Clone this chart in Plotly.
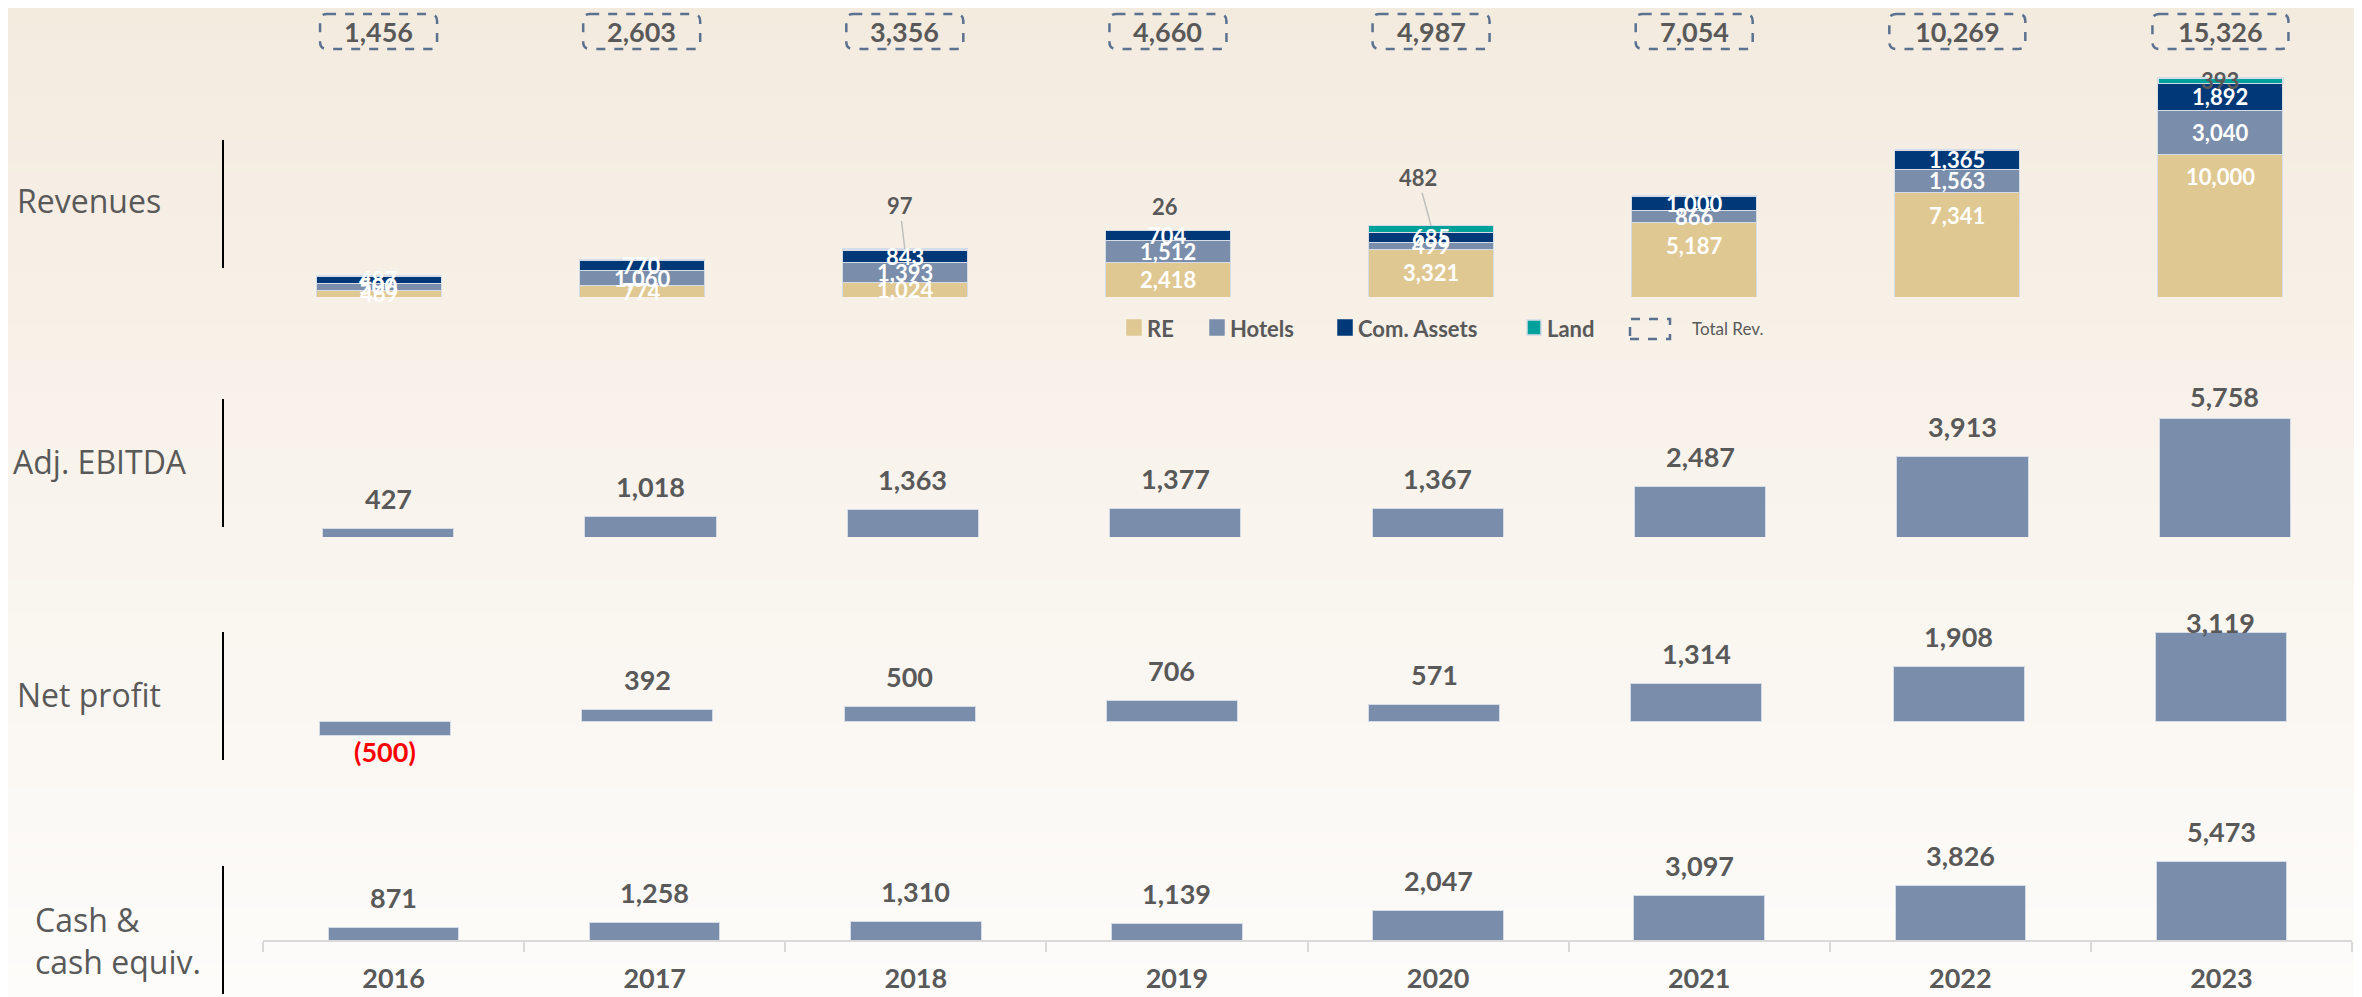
import plotly.graph_objects as go

# the page puts the figure 8px in from the top-left corner
OFF = 8
W, H = 2354, 989

# ── data ────────────────────────────────────────────────────────────────────
YEARS = ["2016", "2017", "2018", "2019", "2020", "2021", "2022", "2023"]

REV_RE = [469, 774, 1024, 2418, 3321, 5187, 7341, 10000]
REV_HOTELS = [500, 1060, 1393, 1512, 499, 866, 1563, 3040]
REV_COM = [487, 770, 843, 704, 685, 1000, 1365, 1892]
REV_LAND = [0, 0, 97, 26, 482, 0, 0, 393]
REV_TOTAL = [1456, 2603, 3356, 4660, 4987, 7054, 10269, 15326]

ADJ_EBITDA = [427, 1018, 1363, 1377, 1367, 2487, 3913, 5758]
NET_PROFIT = [-500, 392, 500, 706, 571, 1314, 1908, 3119]
CASH = [871, 1258, 1310, 1139, 2047, 3097, 3826, 5473]

ROW_LABELS = ["Revenues", "Adj. EBITDA", "Net profit", "Cash &<br>cash equiv."]

# ── style ───────────────────────────────────────────────────────────────────
C = {
    "re": "#E0C892",
    "hotels": "#7A8EAB",
    "com": "#003878",
    "land": "#00A19A",
    "edge": "rgba(212,220,232,1)",
    "text": "#595959",
    "neg": "#FF0000",
    "box": "#5B7190",
    "axis": "#D9D9D9",
}
NUM_FONT = "Lato, Open Sans, sans-serif"
LBL_FONT = "Open Sans, Lato, sans-serif"

# page-pixel geometry of each panel: x span, top, baseline, bottom, px per unit
PANELS = {
    "rev": dict(ax="2", x=(247, 2352), top=60, base=297, bottom=297, ppu=0.0143, width=0.475),
    "ebitda": dict(ax="3", x=(257, 2356), top=385, base=537, bottom=537, ppu=0.0205, width=0.5),
    "net": dict(ax="4", x=(254, 2352), top=610, base=721, bottom=760, ppu=0.0285, width=0.5),
    "cash": dict(ax="", x=(263, 2352), top=800, base=940, bottom=940, ppu=0.0143, width=0.5),
}

# land labels lifted above tiny segments (px) and whether a leader line shows
LAND_LIFT = [0, 0, 43, 24, 48, 0, 0, 0]
LAND_DX = [0, 0, -5, -3, -13, 0, 0, 0]
LAND_LEADER = [False, False, True, False, True, False, False, False]


def xp(px):
    return (px - OFF) / W


def yp(px):
    return 1 - (px - OFF) / H


fig = go.Figure()
layout_axes = {}
for key, p in PANELS.items():
    a = p["ax"]
    lo = -(p["bottom"] - p["base"]) / p["ppu"]
    hi = (p["base"] - p["top"]) / p["ppu"]
    layout_axes["xaxis" + a] = dict(
        domain=[xp(p["x"][0]), xp(p["x"][1])], range=[-0.5, 7.5],
        anchor="y" + a, visible=False, fixedrange=True,
    )
    layout_axes["yaxis" + a] = dict(
        domain=[yp(p["bottom"]), yp(p["top"])], range=[lo, hi],
        anchor="x" + a, visible=False, fixedrange=True,
    )

xi = list(range(len(YEARS)))

# ── revenues (stacked) ──────────────────────────────────────────────────────
rp = PANELS["rev"]
for name, vals, col in [("RE", REV_RE, C["re"]), ("Hotels", REV_HOTELS, C["hotels"]),
                        ("Com. Assets", REV_COM, C["com"]), ("Land", REV_LAND, C["land"])]:
    fig.add_trace(go.Bar(
        x=xi, y=vals, name=name, xaxis="x2", yaxis="y2", width=rp["width"],
        marker=dict(color=col, line=dict(color=C["edge"], width=1.5 if name == "Land" else 1)),
        showlegend=False, hoverinfo="skip",
    ))

seg_font = dict(family=NUM_FONT, size=22, color="white", weight="bold")
for i in xi:
    # RE label sits near the top of its segment
    h = REV_RE[i] * rp["ppu"]
    fig.add_annotation(x=i, y=REV_RE[i], xref="x2", yref="y2", text=f"{REV_RE[i]:,}",
                       showarrow=False, yanchor="middle", yshift=-min(23, h / 2), font=seg_font)
    base = REV_RE[i]
    for vals in (REV_HOTELS, REV_COM):
        fig.add_annotation(x=i, y=base + vals[i] / 2, xref="x2", yref="y2", text=f"{vals[i]:,}",
                           showarrow=False, yanchor="middle", font=seg_font)
        base += vals[i]
    if REV_LAND[i] > 0:
        tip = base + REV_LAND[i] / 2 if LAND_LIFT[i] == 0 else base + REV_LAND[i]
        fig.add_annotation(
            x=i, y=tip, xref="x2", yref="y2", text=f"{REV_LAND[i]:,}",
            showarrow=LAND_LIFT[i] > 0, arrowhead=0, arrowwidth=1.5,
            arrowcolor="#BFBFBF" if LAND_LEADER[i] else "rgba(0,0,0,0)",
            ax=LAND_DX[i], ay=-LAND_LIFT[i], standoff=0, yanchor="middle",
            font=dict(family=NUM_FONT, size=22, color=C["text"], weight="bold"),
        )

# total revenue boxes
span = (rp["x"][1] - rp["x"][0]) / 8
for i, tot in enumerate(REV_TOTAL):
    txt = f"{tot:,}"
    half = (19 * len(txt) + 22) / 2 / span
    x0, x1 = i - half, i + half
    y0, y1 = yp(49), yp(14)
    rx, ry = 7 / span, 7 / H
    path = (f"M {x0+rx},{y1} L {x1-rx},{y1} Q {x1},{y1} {x1},{y1-ry} L {x1},{y0+ry} "
            f"Q {x1},{y0} {x1-rx},{y0} L {x0+rx},{y0} Q {x0},{y0} {x0},{y0+ry} "
            f"L {x0},{y1-ry} Q {x0},{y1} {x0+rx},{y1} Z")
    fig.add_shape(type="path", path=path, xref="x2", yref="paper",
                  line=dict(color=C["box"], width=2.5, dash="dash"))
    fig.add_annotation(x=i, y=yp(31.5), xref="x2", yref="paper", text=txt, showarrow=False,
                       yanchor="middle",
                       font=dict(family=NUM_FONT, size=27, color=C["text"], weight="bold"))

# ── single series panels ────────────────────────────────────────────────────
for key, vals in [("ebitda", ADJ_EBITDA), ("net", NET_PROFIT), ("cash", CASH)]:
    p = PANELS[key]
    a = p["ax"]
    fig.add_trace(go.Bar(
        x=xi, y=vals, xaxis="x" + a, yaxis="y" + a, width=p["width"],
        marker=dict(color=C["hotels"], line=dict(color=C["edge"], width=1)),
        showlegend=False, hoverinfo="skip",
    ))
    room = p["base"] - p["top"]
    for i, v in enumerate(vals):
        if v < 0:
            fig.add_annotation(x=i, y=v, xref="x" + a, yref="y" + a, text=f"({-v:,})",
                               showarrow=False, yanchor="middle", yshift=-16,
                               font=dict(family=NUM_FONT, size=27, color=C["neg"], weight="bold"))
        else:
            h = v * p["ppu"]
            fig.add_annotation(x=i, y=v, xref="x" + a, yref="y" + a, text=f"{v:,}",
                               showarrow=False, yanchor="middle", yshift=min(30, room - 12 - h),
                               font=dict(family=NUM_FONT, size=27, color=C["text"], weight="bold"))

# bottom axis with the years
layout_axes["xaxis"].update(
    visible=True, tickmode="array", tickvals=xi, ticktext=YEARS, ticks="",
    showline=True, linecolor=C["axis"], linewidth=2, showgrid=False, zeroline=False,
    tickfont=dict(family=NUM_FONT, size=27, color=C["text"], weight="bold"),
    ticklabelstandoff=14,
    minor=dict(tickmode="array", tickvals=[i - 0.5 for i in range(9)], ticks="outside",
               ticklen=10, tickcolor=C["axis"], tickwidth=2, showgrid=False),
)

# ── row labels + dividers ───────────────────────────────────────────────────
row_pos = [(15, 200), (11, 462), (15, 694), (33, 940)]
dividers = [(140, 268), (399, 527), (632, 760), (866, 994)]
for lbl, (lx, ly), (d0, d1) in zip(ROW_LABELS, row_pos, dividers):
    fig.add_annotation(x=xp(lx), y=yp(ly), xref="paper", yref="paper", text=lbl,
                       showarrow=False, xanchor="left", yanchor="middle", align="left",
                       font=dict(family=LBL_FONT, size=32, color=C["text"]))
    fig.add_shape(type="line", xref="paper", yref="paper", x0=xp(223), x1=xp(223),
                  y0=yp(d0), y1=yp(d1), line=dict(color="black", width=2))

# ── legend (hand-built) ─────────────────────────────────────────────────────
legend_items = [("RE", C["re"], 1127), ("Hotels", C["hotels"], 1210),
                ("Com. Assets", C["com"], 1338), ("Land", C["land"], 1527)]
for name, col, lx in legend_items:
    fig.add_shape(type="rect", xref="paper", yref="paper", x0=xp(lx), x1=xp(lx + 14),
                  y0=yp(335), y1=yp(320), fillcolor=col,
                  line=dict(color=C["edge"] if name == "Land" else col, width=1.5))
    fig.add_annotation(x=xp(lx + 18), y=yp(328), xref="paper", yref="paper", text=name,
                       showarrow=False, xanchor="left", yanchor="middle",
                       font=dict(family=NUM_FONT, size=22, color=C["text"], weight="bold"))
fig.add_shape(type="rect", xref="paper", yref="paper", x0=xp(1630), x1=xp(1670),
              y0=yp(339), y1=yp(319), line=dict(color=C["box"], width=2.5, dash="dash"))
fig.add_annotation(x=xp(1690), y=yp(329), xref="paper", yref="paper", text="Total Rev.",
                   showarrow=False, xanchor="left", yanchor="middle",
                   font=dict(family=NUM_FONT, size=17, color=C["text"]))

# ── background gradient as stacked bands ───────────────────────────────────
top_c, bot_c = (244, 235, 223), (253, 252, 250)
n_bands = 90
for k in range(n_bands):
    t = k / (n_bands - 1)
    col = tuple(round(top_c[j] + (bot_c[j] - top_c[j]) * t) for j in range(3))
    b0 = H * k / n_bands
    b1 = min(H, H * (k + 1) / n_bands + 0.6)
    fig.add_shape(type="rect", xref="paper", yref="paper", x0=0, x1=1,
                  y0=1 - b1 / H, y1=1 - b0 / H, fillcolor="rgb(%d,%d,%d)" % col,
                  line=dict(width=0), layer="below")

fig.update_layout(
    width=W, height=H,
    margin=dict(l=0, r=0, t=0, b=0),
    paper_bgcolor="white",
    plot_bgcolor="rgba(0,0,0,0)",
    barmode="stack",
    showlegend=False,
    **layout_axes,
)

fig.write_html("out.html")
